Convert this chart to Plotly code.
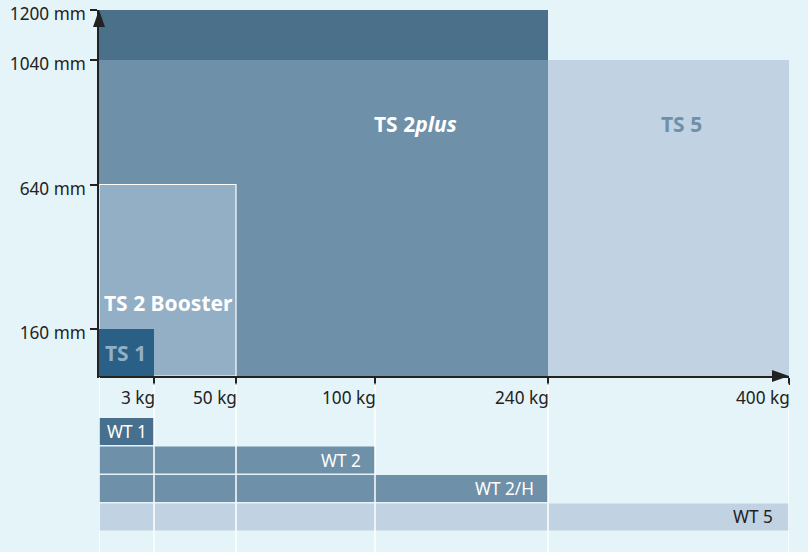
import numpy as np
import plotly.graph_objects as go

# ---------------- data ----------------
KG_TICKS = [0, 3, 50, 100, 240, 400]
KG_TICK_LABELS = ["", "3 kg", "50 kg", "100 kg", "240 kg", "400 kg"]
MM_TICKS = [0, 160, 640, 1040, 1200]
MM_TICK_LABELS = ["", "160 mm", "640 mm", "1040 mm", "1200 mm"]

# table systems (load range in kg, height range in mm)
TS_NAMES = ["TS 5", "TS 2plus", "TS 2plus 1200", "TS 2 Booster", "TS 1"]
TS_KG_FROM = [240, 0, 0, 0, 0]
TS_KG_TO = [400, 240, 240, 50, 3]
TS_MM_FROM = [0, 0, 1040, 0, 0]
TS_MM_TO = [1040, 1040, 1200, 640, 160]

# worktops (max load in kg)
WT_NAMES = ["WT 1", "WT 2", "WT 2/H", "WT 5"]
WT_KG_MAX = [3, 100, 240, 400]

# ---------------- styles ----------------
BG = "#e5f4f8"
DARK = "#222222"
FONT = "Noto Sans"
TS_COLORS = ["#c1d3e2", "#6e90a9", "#4b718a", "#92afc5", "#2a5f86"]
TS_LINE = [0, 0, 0, 1.2, 0]
WT_COLORS = ["#47708f", "#6e90a9", "#6e90a9", "#c1d3e2"]

# piecewise scales of the two axes (display slot of each tick)
X_SLOTS = [0, 55, 137, 276, 449, 690]
Y_SLOTS = [0, 47, 191.5, 316, 366]


def xs(kg):
    return float(np.interp(kg, KG_TICKS, X_SLOTS))


def ys(mm):
    return float(np.interp(mm, MM_TICKS, Y_SLOTS))


fig = go.Figure()

for name, k0, k1, m0, m1, c, lw in zip(TS_NAMES, TS_KG_FROM, TS_KG_TO,
                                       TS_MM_FROM, TS_MM_TO, TS_COLORS, TS_LINE):
    a, b = xs(k0), xs(k1)
    fig.add_trace(go.Bar(
        x=[(a + b) / 2], width=[b - a], base=[ys(m0)], y=[ys(m1) - ys(m0)],
        marker=dict(color=c, line=dict(color="white", width=lw)),
        name=name, hoverinfo="skip", xaxis="x", yaxis="y"))

fig.add_trace(go.Bar(
    y=WT_NAMES, x=[xs(k) for k in WT_KG_MAX], base=0, orientation="h",
    width=0.947, marker=dict(color=WT_COLORS, line=dict(width=0)),
    hoverinfo="skip", xaxis="x", yaxis="y2"))

H = 552
top_px, axis_px = 10, 376
TICK_FS = 17.2
fig.update_layout(
    width=808, height=H,
    margin=dict(l=99, r=19, t=0, b=0, pad=0, autoexpand=False),
    paper_bgcolor=BG, plot_bgcolor=BG,
    barmode="overlay", showlegend=False,
    font=dict(family=FONT, color=DARK, size=TICK_FS),
    xaxis=dict(range=[0, X_SLOTS[-1]], tickvals=X_SLOTS[1:], ticks="outside",
               ticklen=7, tickwidth=1.5, tickcolor=DARK, showticklabels=False,
               showline=True, linecolor=DARK, linewidth=1.5, showgrid=False,
               zeroline=False, anchor="y", automargin=False),
    yaxis=dict(domain=[(H - axis_px) / H, (H - top_px) / H],
               range=[0, Y_SLOTS[-1]],
               tickvals=Y_SLOTS[1:], ticktext=MM_TICK_LABELS[1:], ticks="outside",
               ticklen=7, tickwidth=1.5, tickcolor=DARK, showline=True,
               linecolor=DARK, linewidth=1.5, showgrid=False, zeroline=False,
               ticklabelstandoff=1, ticklabelshift=4, ticklabeloverflow="allow",
               automargin=False, tickfont=dict(size=TICK_FS, color=DARK)),
    yaxis2=dict(domain=[0, (H - axis_px) / H], type="category",
                categoryorder="array", categoryarray=WT_NAMES,
                range=[4.23, -1.95], visible=False, anchor="x",
                automargin=False),
)

shapes = []
for i, s in enumerate(X_SLOTS):
    shapes.append(dict(type="line", xref="x", yref="y2 domain", x0=s, x1=s,
                       y0=0, y1=0.995 if i == 0 else 0.958, layer="above",
                       line=dict(color="white", width=1.5)))
# axis arrowheads (paper refs so they are not clipped)
shapes.append(dict(type="path", xref="paper", yref="paper", xsizemode="pixel",
                   ysizemode="pixel", xanchor=0, yanchor=(H - top_px) / H,
                   path="M -6,-17 L 6,-17 L 0,0 Z", fillcolor=DARK,
                   line=dict(width=0), layer="above"))
shapes.append(dict(type="path", xref="paper", yref="paper", xsizemode="pixel",
                   ysizemode="pixel", xanchor=1, yanchor=(H - axis_px) / H,
                   path="M -17,-6 L -17,6 L 0,0 Z", fillcolor=DARK,
                   line=dict(width=0), layer="above"))
fig.update_layout(shapes=shapes)

ann = []
for kg, lab in zip(KG_TICKS[1:], KG_TICK_LABELS[1:]):
    ann.append(dict(x=xs(kg), y=0, xref="x", yref="y", text=lab,
                    showarrow=False, xanchor="right", yanchor="middle",
                    xshift=3, yshift=-21, font=dict(size=TICK_FS, color=DARK)))

big = 21
ann += [
    dict(x=316, y=252, text="<b>TS 2<i>plus</i></b>", font=dict(size=big, color="white")),
    dict(x=582.5, y=252, text="<b>TS 5</b>", font=dict(size=big, color="#6e90a9")),
    dict(x=0, y=73, xanchor="left", xshift=3, text="<b>TS 2 Booster</b>",
         font=dict(size=big, color="white")),
    dict(x=0, y=23, xanchor="left", xshift=4, text="<b>TS 1</b>",
         font=dict(size=big, color="#92afc5")),
]
for a in ann[-4:]:
    a.update(xref="x", yref="y", showarrow=False)

wt_style = [("left", 0, 6, "white"), ("right", None, -12, "white"),
            ("right", None, -12, "white"), ("right", None, -14, DARK)]
for name, kg, (anc, x0, sh, col) in zip(WT_NAMES, WT_KG_MAX, wt_style):
    ann.append(dict(x=xs(kg) if x0 is None else x0, y=name, xref="x", yref="y2",
                    text=name, showarrow=False, xanchor=anc, xshift=sh,
                    font=dict(size=TICK_FS, color=col)))

fig.update_layout(annotations=ann)
fig.write_html("out.html",
               config={"displayModeBar": False},
               post_script="document.body.style.margin='0px';"
                           "document.body.style.background='" + BG + "';")
